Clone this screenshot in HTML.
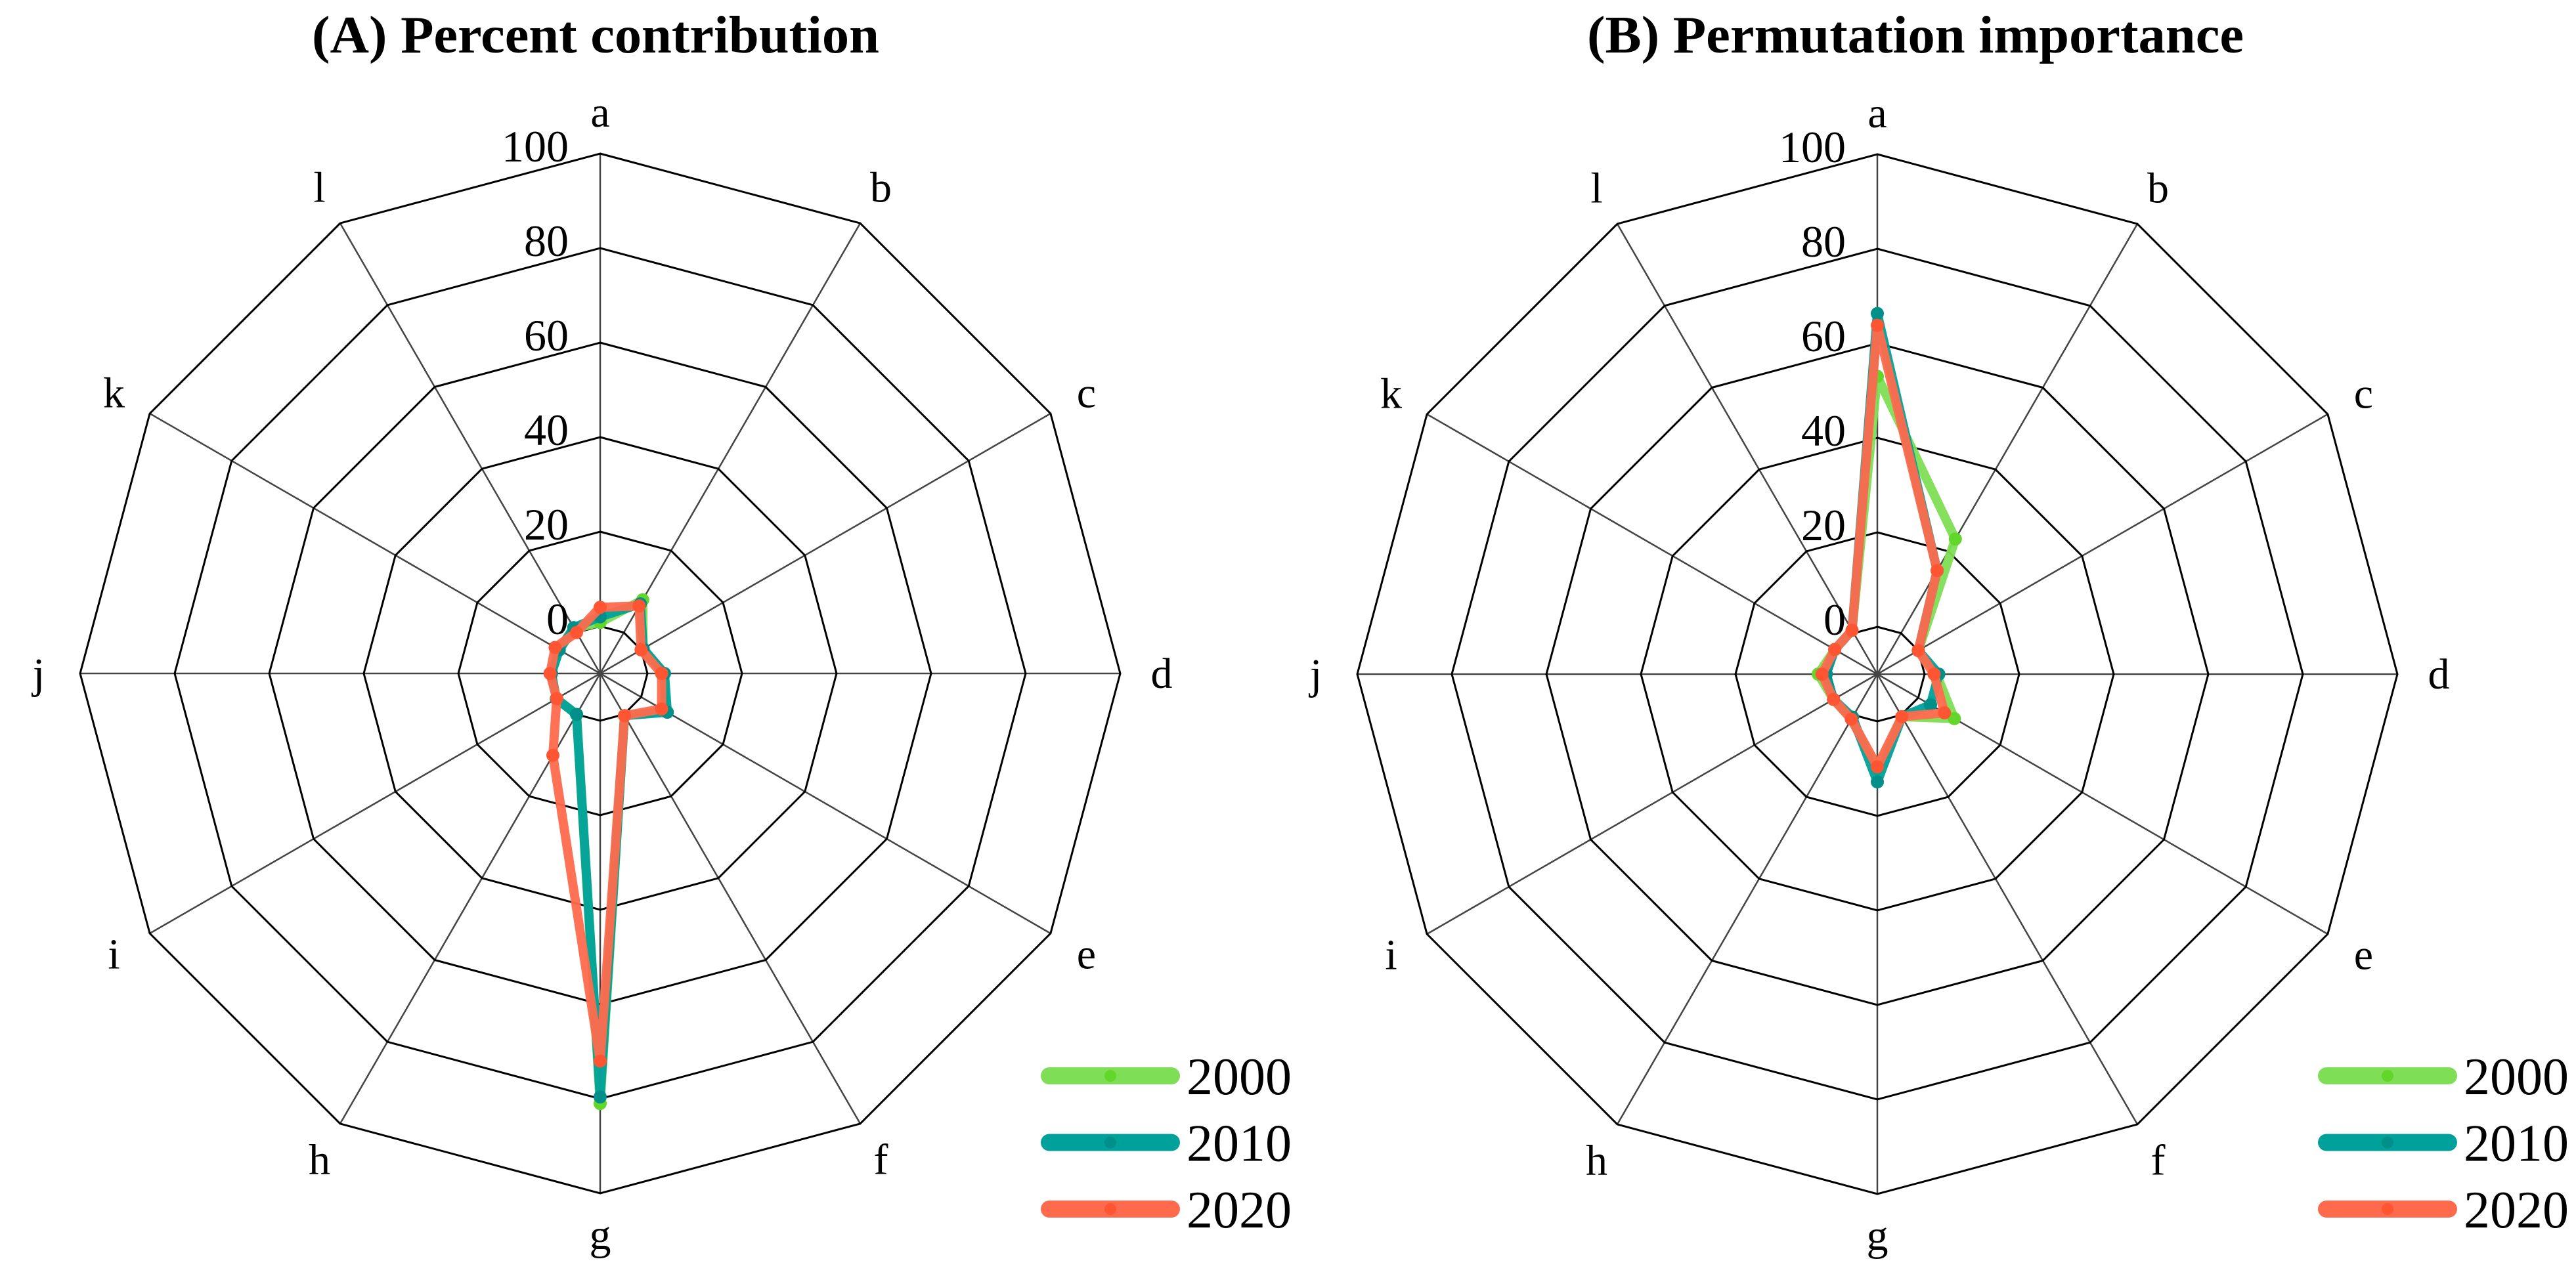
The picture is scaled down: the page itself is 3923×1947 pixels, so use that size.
<!DOCTYPE html>
<html><head><meta charset="utf-8">
<style>
html,body{margin:0;padding:0;background:#fff;}
svg{display:block;font-family:"Liberation Serif",serif;}
</style></head>
<body>
<svg id="chart" width="3923" height="1947" viewBox="0 0 3923 1947" xmlns="http://www.w3.org/2000/svg">
<rect width="3923" height="1947" fill="#fff"/>
</svg>
<script>
const categories = ["a","b","c","d","e","f","g","h","i","j","k","l"];
const ticks = [0,20,40,60,80,100];
const seriesNames = ["2000","2010","2020"];
// Panel A: percent contribution
const a2000 = [0.8,8,0.5,3.5,6,0.3,81,0,0.7,0.3,0,1];
const a2010 = [2,7,0.5,3.6,6.4,0.3,79.6,0,0.7,0.3,0,1.2];
const a2020 = [4,6.5,0,3,5,0.3,72,10,0.6,0.6,1,0];
// Panel B: permutation importance
const b2000 = [53,23,0,2.5,8.8,0.4,10,1,0.7,2.5,0.4,0.7];
const b2010 = [66.3,15.3,0,3,3,0.4,12.8,0.5,0.7,0.8,0.4,0.7];
const b2020 = [63.8,15.3,0,2,6.4,0.4,9.6,1,0.7,1.7,0.4,0.7];

const lineColors = ["#7ede55","#00a19a","#ff6a4d"];
const dotColors = ["#62d62a","#008f89","#ff5533"];
const NS = "http://www.w3.org/2000/svg";
const svg = document.getElementById("chart");
const VMIN = -10, VMAX = 100, RMAX = 792;

function mk(tag, attrs, parent){
  const e = document.createElementNS(NS, tag);
  for (const k in attrs) e.setAttribute(k, attrs[k]);
  parent.appendChild(e);
  return e;
}
function rScale(v){ return (v - VMIN) / (VMAX - VMIN) * RMAX; }
function pt(cx, cy, i, v){
  const ang = i * 2 * Math.PI / categories.length;
  const r = rScale(v);
  return [cx + r * Math.sin(ang), cy - r * Math.cos(ang)];
}

function panel(key, cx, cy, title, titleX, titleW, data){
  const g = mk("g", {}, svg);
  
  
  const t = mk("text", {x: titleX, y: 80, "text-anchor": "middle", "font-size": 80, "font-weight": "bold", textLength: titleW, lengthAdjust: "spacingAndGlyphs"}, g);
  t.textContent = title;
  
  
  categories.forEach((c, i) => {
    const p = pt(cx, cy, i, VMAX);
    const l = mk("line", {x1: cx, y1: cy, x2: p[0], y2: p[1], stroke: "#444", "stroke-width": 2.5}, g);
    
    
  });
  ticks.forEach(tv => {
    const pts = categories.map((c, i) => pt(cx, cy, i, tv).join(",")).join(" ");
    const pg = mk("polygon", {points: pts, fill: "none", stroke: "#000", "stroke-width": 3}, g);
    
    
    const p = pt(cx, cy, 0, tv);
    const tl = mk("text", {x: cx - 48, y: p[1] + 12, "text-anchor": "end", "font-size": 68}, g);
    tl.textContent = tv;
    
    
  });
  categories.forEach((c, i) => {
    const ang = i * 2 * Math.PI / categories.length;
    const x = cx + 855 * Math.sin(ang), y = cy - 855 * Math.cos(ang);
    const al = mk("text", {x: x, y: y + 22, "text-anchor": "middle", "font-size": 66}, g);
    al.textContent = c;
    
    
  });
  data.forEach((vals, s) => {
    const pts = vals.map((v, i) => pt(cx, cy, i, v));
    const pl = mk("polygon", {points: pts.map(p => p.join(",")).join(" "), fill: "none", stroke: lineColors[s], "stroke-width": 14, "stroke-linejoin": "round", opacity: 0.95}, g);
    
    
    pts.forEach((p, i) => {
      const d = mk("circle", {cx: p[0], cy: p[1], r: 10, fill: dotColors[s]}, g);
      
      
    });
  });
  const lx = cx + 671;
  seriesNames.forEach((n, s) => {
    const y = 1639 + s * 101.5;
    const lg = mk("g", {}, g);
    
    
    mk("line", {x1: lx + 13, y1: y, x2: lx + 199, y2: y, stroke: lineColors[s], "stroke-width": 26, "stroke-linecap": "round"}, lg);
    mk("circle", {cx: lx + 106, cy: y, r: 9, fill: dotColors[s]}, lg);
    const lt = mk("text", {x: lx + 222, y: y + 28, "font-size": 80, textLength: 160, lengthAdjust: "spacingAndGlyphs"}, lg);
    lt.textContent = n;
  });
}
panel("panel-a", 914, 1026, "(A) Percent contribution", 907, 864, [a2000, a2010, a2020]);
panel("panel-b", 2859, 1027, "(B) Permutation importance", 2917, 1000, [b2000, b2010, b2020]);
</script>
</body></html>
